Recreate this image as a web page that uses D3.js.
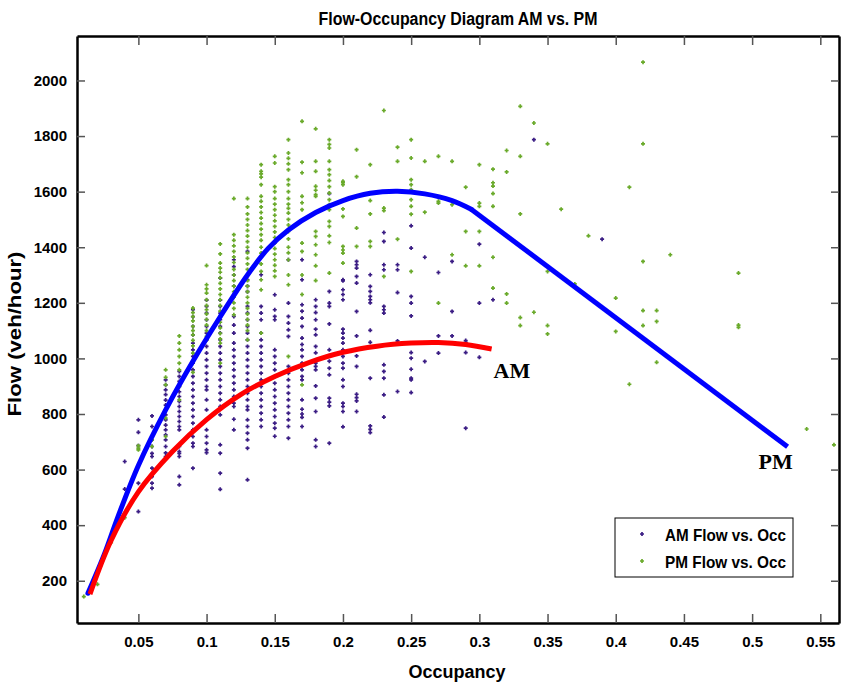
<!DOCTYPE html>
<html lang="en">
<head>
<meta charset="UTF-8">
<title>Flow-Occupancy Diagram AM vs. PM</title>
<script src="https://d3js.org/d3.v7.min.js"></script>
<style>
  body { margin: 0; background: #fff; }
  text { font-family: "Liberation Sans", Arial, sans-serif; }
  .axis .tick line { stroke: #555; stroke-width: 1.5; }
  .axis .domain { stroke: #000; stroke-width: 2.5; }
  .axis text { font-size: 15px; font-weight: bold; fill: #000; }
</style>
</head>
<body>
<div id="graph"></div>
<script>
// ---- data ----
const xTicks = [0.05, 0.1, 0.15, 0.2, 0.25, 0.3, 0.35, 0.4, 0.45, 0.5, 0.55];
const xTickLabels = ["0.05", "0.1", "0.15", "0.2", "0.25", "0.3", "0.35", "0.4", "0.45", "0.5", "0.55"];
const yTicks = [200, 400, 600, 800, 1000, 1200, 1400, 1600, 1800, 2000];

// AM scatter: one occupancy per column, list of flows in that column
const amOcc = [0.04, 0.05, 0.06, 0.07, 0.08, 0.09, 0.10, 0.11, 0.12, 0.13, 0.14, 0.15, 0.16, 0.17,
  0.18, 0.19, 0.20, 0.21, 0.22, 0.23, 0.24, 0.25, 0.26, 0.27, 0.28, 0.29, 0.30, 0.31, 0.34, 0.39];
const amFlow = [
  [629, 530],
  [779, 734, 686, 551, 449],
  [793, 755, 707, 683, 658, 647, 605, 575, 551, 533],
  [923, 905, 887, 870, 850, 832, 815, 797, 779, 760, 743, 725, 707, 683, 660, 647],
  [953, 935, 917, 899, 880, 863, 845, 827, 809, 791, 773, 755, 743, 683, 665, 658, 647, 575, 545],
  [1175, 1150, 1115, 1085, 1055, 1031, 1007, 983, 959, 935, 911, 887, 863, 839, 815, 791, 767, 743, 719, 695, 683, 605],
  [1210, 1187, 1163, 1139, 1115, 1091, 1067, 1043, 1019, 995, 971, 947, 923, 899, 887, 851, 815, 743, 719, 695, 671, 661],
  [1289, 1210, 1187, 1163, 1139, 1115, 1091, 1067, 1043, 1019, 995, 971, 947, 923, 899, 875, 851, 827, 797, 689, 659, 587, 529],
  [1355, 1330, 1300, 1260, 1223, 1151, 1120, 1091, 1055, 1031, 1007, 983, 959, 935, 911, 887, 863, 839, 827, 781, 743],
  [1385, 1283, 1260, 1240, 1187, 1163, 1139, 1115, 1091, 1067, 1043, 1019, 995, 971, 947, 923, 899, 875, 851, 827, 815, 779, 755, 731, 707, 677, 563],
  [1301, 1187, 1163, 1139, 1091, 1067, 1043, 1019, 995, 971, 947, 923, 899, 875, 851, 827, 803, 779, 755],
  [1229, 1175, 1151, 1139, 1031, 1007, 983, 959, 935, 911, 887, 863, 839, 815, 791, 767, 749, 720],
  [1355, 1199, 1151, 1127, 1103, 1079, 971, 947, 923, 899, 875, 851, 827, 803, 779, 755, 713],
  [1355, 1283, 1193, 1170, 1145, 1115, 1073, 1050, 1031, 1007, 983, 959, 935, 923, 851, 817, 800, 788, 755],
  [1211, 1187, 1165, 1139, 1105, 1085, 1043, 1020, 983, 971, 959, 901, 857, 809, 707, 683],
  [1593, 1241, 1199, 1187, 1124, 1031, 1010, 990, 965, 941, 857, 843, 829, 695],
  [1283, 1279, 1247, 1230, 1211, 1105, 1091, 1073, 1055, 1031, 1007, 983, 965, 923, 899, 839, 827, 809, 754],
  [1349, 1337, 1325, 1295, 1271, 1169, 1081, 1009, 971, 871, 859, 847, 809],
  [1301, 1259, 1241, 1223, 1211, 1200, 1101, 1058, 929, 757, 745, 733],
  [1453, 1421, 1337, 1319, 1187, 1175, 1163, 977, 953, 929, 869, 789],
  [1337, 1319, 1237, 1063, 881],
  [1477, 1397, 1223, 1199, 1153, 1021, 1001, 961, 929, 923, 877],
  [1364, 989],
  [1309, 1081, 1019],
  [1349, 1169, 1081],
  [1064, 1057, 1021, 749],
  [1411, 1199, 1004],
  [1211],
  [1787],
  [1429]
];

// PM scatter
const pmOcc = [0.01, 0.02, 0.03, 0.04, 0.05, 0.06, 0.07, 0.08, 0.09, 0.10, 0.11, 0.12, 0.13, 0.14,
  0.15, 0.16, 0.17, 0.18, 0.19, 0.20, 0.21, 0.22, 0.23, 0.24, 0.25, 0.26, 0.27, 0.28, 0.29, 0.30,
  0.31, 0.32, 0.33, 0.34, 0.35, 0.36, 0.37, 0.38, 0.40, 0.41, 0.42, 0.43, 0.44, 0.49, 0.54, 0.56];
const pmFlow = [
  [143],
  [187],
  [337],
  [427],
  [671, 686, 677],
  [707, 683],
  [959, 932, 905, 785, 719],
  [1081, 1055, 1031, 1007, 983, 959, 899, 851],
  [1181, 1165, 1150, 1135, 1115, 1100, 1085, 1065, 1045, 1019, 950],
  [1334, 1265, 1250, 1235, 1211, 1190, 1175, 1160, 1140, 1120, 1100, 1079, 1067],
  [1412, 1376, 1343, 1325, 1310, 1290, 1270, 1250, 1230, 1211, 1190, 1170, 1150, 1130, 1110, 1090, 1070, 1055, 983],
  [1575, 1445, 1425, 1405, 1385, 1365, 1345, 1320, 1300, 1280, 1260, 1240, 1220, 1200, 1180, 1157],
  [1575, 1545, 1520, 1500, 1480, 1460, 1440, 1420, 1400, 1380, 1360, 1340, 1320, 1300, 1280, 1260, 1240, 1220, 1200, 1180, 1160, 1140, 1120, 1100, 1067],
  [1697, 1673, 1664, 1652, 1625, 1583, 1565, 1545, 1525, 1505, 1485, 1465, 1445, 1425, 1400, 1379, 1340, 1313, 1283, 1247, 1091],
  [1727, 1703, 1618, 1600, 1575, 1555, 1535, 1515, 1495, 1475, 1455, 1435, 1415, 1395, 1375, 1355, 1335, 1315, 1295],
  [1787, 1739, 1720, 1700, 1679, 1643, 1625, 1600, 1575, 1555, 1540, 1523, 1500, 1480, 1457, 1430, 1400, 1380, 1355, 1300, 1265, 1007],
  [1853, 1706, 1668, 1583, 1560, 1535, 1415, 1385, 1300, 1230, 905],
  [1826, 1709, 1673, 1619, 1605, 1589, 1583, 1457, 1439, 1409, 1373, 1333, 1280],
  [1787, 1770, 1757, 1709, 1679, 1661, 1640, 1618, 1595, 1571, 1553, 1535, 1493, 1475, 1441, 1417, 1307],
  [1637, 1632, 1625, 1538, 1511, 1403, 1390, 1379, 1343],
  [1751, 1654, 1469, 1403],
  [1697, 1568, 1520, 1421, 1403],
  [1892, 1541, 1532, 1295],
  [1760, 1709, 1429],
  [1787, 1721, 1643, 1625, 1607, 1571, 1547, 1519, 1313],
  [1709, 1526],
  [1727, 1565, 1559, 1199],
  [1709, 1553, 1373],
  [1616, 1457, 1333],
  [1697, 1559, 1547, 1457, 1333],
  [1681, 1632, 1620, 1593, 1547, 1364, 1253],
  [1748, 1671, 1232, 1199],
  [1907, 1727, 1520, 1147, 1118],
  [1847, 1166],
  [1772, 1313, 1118, 1088],
  [1537],
  [1268],
  [1441],
  [1217, 1097],
  [1616, 907],
  [2066, 1772, 1349, 1172, 1118],
  [1172, 1133, 986],
  [1373],
  [1307, 1120, 1112],
  [746],
  [689]
];

// fitted curves
const pmCurveOcc = [0.013, 0.025, 0.035, 0.05, 0.07, 0.09, 0.11, 0.13, 0.145, 0.16, 0.18,
  0.2, 0.22, 0.24, 0.26, 0.28, 0.294];
const pmCurveFlow = [155, 295, 430, 615, 815, 990, 1150, 1300, 1395, 1462, 1525,
  1568, 1594, 1601, 1592, 1568, 1537];
const pmLineOcc = [0.294, 0.526];
const pmLineFlow = [1537, 682];

const amCurveOcc = [0.0145, 0.03, 0.05, 0.075, 0.1, 0.125, 0.15, 0.175, 0.2, 0.225,
  0.25, 0.27, 0.29, 0.309];
const amCurveFlow = [152, 345, 520, 665, 780, 870, 935, 985, 1022, 1044,
  1055, 1057, 1050, 1034];

const amColor = "#3b1d84";
const pmColor = "#6aaa2b";

// ---- chart ----
const width = 841, height = 686;
const mLeft = 77, mRight = 839, mTop = 36, mBottom = 623;

const svg = d3.select("#graph").append("svg")
  .attr("width", width)
  .attr("height", height);

svg.append("rect").attr("width", width).attr("height", height).attr("fill", "#fff");

const x = d3.scaleLinear().domain([0.005, 0.5637]).range([mLeft, mRight]);
const y = d3.scaleLinear().domain([48, 2160]).range([mBottom, mTop]);

// axes, ticks pointing inward
svg.append("g").attr("class", "axis")
  .attr("transform", "translate(0," + mBottom + ")")
  .call(d3.axisBottom(x).tickValues(xTicks).tickFormat((d, i) => xTickLabels[i])
    .tickSizeInner(-9).tickSizeOuter(0).tickPadding(13));

svg.append("g").attr("class", "axis")
  .attr("transform", "translate(0," + mTop + ")")
  .call(d3.axisTop(x).tickValues(xTicks).tickFormat("")
    .tickSizeInner(-9).tickSizeOuter(0));

svg.append("g").attr("class", "axis")
  .attr("transform", "translate(" + mLeft + ",0)")
  .call(d3.axisLeft(y).tickValues(yTicks).tickFormat(d3.format("d"))
    .tickSizeInner(-8).tickSizeOuter(0).tickPadding(10));

svg.append("g").attr("class", "axis")
  .attr("transform", "translate(" + mRight + ",0)")
  .call(d3.axisRight(y).tickValues(yTicks).tickFormat("")
    .tickSizeInner(-8).tickSizeOuter(0));

// scatter points as small plus marks
const plus = "M-2,0H2M0,-2V2";

function drawPoints(occ, flows, color) {
  const pts = [];
  occ.forEach((o, i) => flows[i].forEach(f => pts.push([o, f])));
  svg.append("g").selectAll("path")
    .data(pts)
    .enter().append("path")
    .attr("d", plus)
    .attr("transform", d => "translate(" + x(d[0]) + "," + y(d[1]) + ")")
    .attr("stroke", color)
    .attr("stroke-width", 1.7)
    .attr("fill", "none");
}

drawPoints(amOcc, amFlow, amColor);
drawPoints(pmOcc, pmFlow, pmColor);

// curves
const smooth = d3.line()
  .x(d => x(d[0]))
  .y(d => y(d[1]))
  .curve(d3.curveCatmullRom.alpha(0.5));

const straight = d3.line()
  .x(d => x(d[0]))
  .y(d => y(d[1]));

svg.append("path")
  .datum(pmCurveOcc.map((o, i) => [o, pmCurveFlow[i]]))
  .attr("d", smooth)
  .attr("fill", "none").attr("stroke", "#0000ff").attr("stroke-width", 5)
  .attr("stroke-linecap", "round").attr("stroke-linejoin", "round");

svg.append("path")
  .datum(pmLineOcc.map((o, i) => [o, pmLineFlow[i]]))
  .attr("d", straight)
  .attr("fill", "none").attr("stroke", "#0000ff").attr("stroke-width", 5)
  .attr("stroke-linecap", "butt");

svg.append("path")
  .datum(amCurveOcc.map((o, i) => [o, amCurveFlow[i]]))
  .attr("d", smooth)
  .attr("fill", "none").attr("stroke", "#ff0000").attr("stroke-width", 5)
  .attr("stroke-linecap", "butt");

// AM / PM labels next to curve ends
svg.append("text")
  .attr("x", x(amCurveOcc[amCurveOcc.length - 1]) + 2)
  .attr("y", y(amCurveFlow[amCurveFlow.length - 1]) + 29)
  .style("font-family", "'Liberation Serif', 'Times New Roman', serif")
  .style("font-weight", "bold").style("font-size", "22px")
  .text("AM");

svg.append("text")
  .attr("x", x(pmLineOcc[1]) - 29)
  .attr("y", y(pmLineFlow[1]) + 22)
  .style("font-family", "'Liberation Serif', 'Times New Roman', serif")
  .style("font-weight", "bold").style("font-size", "22px")
  .text("PM");

// titles
svg.append("text")
  .attr("x", 458).attr("y", 25)
  .attr("text-anchor", "middle")
  .attr("textLength", 279).attr("lengthAdjust", "spacingAndGlyphs")
  .style("font-size", "18px").style("font-weight", "bold")
  .text("Flow-Occupancy Diagram AM vs. PM");

svg.append("text")
  .attr("x", 457).attr("y", 678)
  .attr("text-anchor", "middle")
  .style("font-size", "18px").style("font-weight", "bold")
  .text("Occupancy");

svg.append("text")
  .attr("transform", "translate(21,334) rotate(-90)")
  .attr("text-anchor", "middle")
  .attr("textLength", 165).attr("lengthAdjust", "spacingAndGlyphs")
  .style("font-size", "18px").style("font-weight", "bold")
  .text("Flow (veh/hour)");

// legend
const legend = svg.append("g").attr("transform", "translate(615,518)");
legend.append("rect")
  .attr("width", 178).attr("height", 59)
  .attr("fill", "#fff").attr("stroke", "#000").attr("stroke-width", 1);

const legendItems = [["AM Flow vs. Occ", amColor], ["PM Flow vs. Occ", pmColor]];
legendItems.forEach((it, i) => {
  legend.append("path")
    .attr("d", plus)
    .attr("transform", "translate(27," + (16 + i * 27) + ")")
    .attr("stroke", it[1]).attr("stroke-width", 1.7);
  legend.append("text")
    .attr("x", 50).attr("y", 22.5 + i * 27)
    .attr("textLength", 121).attr("lengthAdjust", "spacingAndGlyphs")
    .style("font-size", "17px").style("font-weight", "bold")
    .text(it[0]);
});
</script>
</body>
</html>
